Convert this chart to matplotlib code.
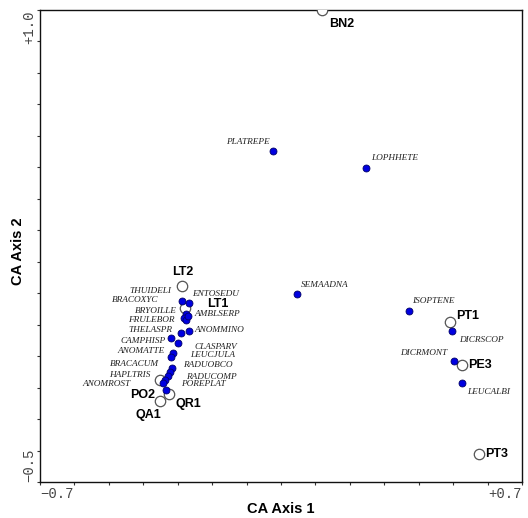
import matplotlib
matplotlib.use("Agg")
import matplotlib.pyplot as plt
from matplotlib.patches import Rectangle

# Species scores (CA axis 1, CA axis 2)
species = ["PLATREPE", "LOPHHETE", "SEMAADNA", "ISOPTENE", "DICRSCOP", "DICRMONT",
           "LEUCALBI", "THUIDELI", "ENTOSEDU", "BRACOXYC", "BRYOILLE", "FRULEBOR",
           "AMBLSERP", "THELASPR", "ANOMMINO", "CAMPHISP", "CLASPARV", "ANOMATTE",
           "LEUCJULA", "BRACACUM", "RADUOBCO", "RADUCOMP", "HAPLTRIS", "POREPLAT",
           "ANOMROST"]
species_x = [-0.023, 0.247, 0.047, 0.372, 0.497, 0.502,
             0.525, -0.288, -0.267, -0.276, -0.282, -0.276,
             -0.270, -0.290, -0.267, -0.320, -0.299, -0.314,
             -0.320, -0.317, -0.322, -0.328, -0.337, -0.334,
             -0.343]
species_y = [0.552, 0.499, 0.099, 0.044, -0.020, -0.114,
             -0.184, 0.075, 0.069, 0.034, 0.021, 0.015,
             0.028, -0.026, -0.020, -0.042, -0.058, -0.090,
             -0.103, -0.138, -0.150, -0.163, -0.176, -0.208,
             -0.185]

# Site scores
sites = ["BN2", "LT2", "LT1", "PO2", "QR1", "QA1", "PT1", "PE3", "PT3"]
sites_x = [0.119, -0.288, -0.279, -0.352, -0.325, -0.352, 0.491, 0.526, 0.575]
sites_y = [1.000, 0.123, 0.053, -0.176, -0.220, -0.242, 0.009, -0.128, -0.411]

# Label placement (pixel offsets from the marker, horizontal alignment)
species_offsets = [(-3, 9, "right"), (5, 10, "left"), (4, 9, "left"), (3, 10, "left"),
                   (7, -9, "left"), (-7, 8, "right"), (5, -9, "left"), (-10, 10, "right"),
                   (3, 9, "left"), (-28, 14, "right"), (-7, 7, "right"), (-11, 0, "right"),
                   (6, 2, "left"), (-9, 3, "right"), (5, 1, "left"), (-5, -3, "right"),
                   (16, -4, "left"), (-8, 2, "right"), (19, 2, "left"), (-13, 4, "right"),
                   (13, 7, "left"), (18, -1, "left"), (-15, 5, "right"), (15, 6, "left"),
                   (-32, -1, "right")]
site_offsets = [(7, -14, "left"), (1, 14, "center"), (22, 4, "left"), (-5, -15, "right"),
                (6, -10, "left"), (1, -14, "right"), (6, 6, "left"), (6, 0, "left"),
                (6, 0, "left")]

xmin, xmax = -0.7, 0.7
ymin, ymax = -0.5, 1.0

W, H = 528, 518
fig = plt.figure(figsize=(W / 100, H / 100), dpi=100)
ax = fig.add_axes([40 / W, (H - 482) / H, (522 - 40) / W, (482 - 10) / H])
ax.set_xlim(xmin, xmax)
ax.set_ylim(ymin, ymax)

for s in ax.spines.values():
    s.set_linewidth(1.0)
    s.set_color("#111111")

ticks_x = [round(xmin + 0.1 * i, 1) for i in range(15)]
ticks_y = [round(ymin + 0.1 * i, 1) for i in range(16)]
ax.set_xticks(ticks_x)
ax.set_yticks(ticks_y)
ax.set_xticklabels([])
ax.set_yticklabels([])
ax.tick_params(direction="out", length=2.5, width=0.8, color="#333333")

mono = dict(family="Liberation Mono", fontsize=10, color="#444444")
ax.text(0.0, -0.01, "\u22120.7", transform=ax.transAxes, ha="left", va="top", **mono)
ax.text(1.0, -0.01, "+0.7", transform=ax.transAxes, ha="right", va="top", **mono)
ax.text(-0.008, 1.0, "+1.0", transform=ax.transAxes, ha="right", va="top",
        rotation=90, **mono)
ax.text(-0.008, 0.0, "\u22120.5", transform=ax.transAxes, ha="right", va="bottom",
        rotation=90, **mono)

ax.text(0.5, -0.042, "CA Axis 1", transform=ax.transAxes, ha="center", va="top",
        family="Liberation Sans", fontweight="bold", fontsize=10.5)
ax.text(-0.046, 0.49, "CA Axis 2", transform=ax.transAxes, ha="center", va="center",
        rotation=90, family="Liberation Sans", fontweight="bold", fontsize=10.5)

# Sites: open circles
ax.plot(sites_x, sites_y, linestyle="none", marker="o", markersize=7.5,
        markerfacecolor="white", markeredgecolor="#555555", markeredgewidth=0.9,
        zorder=3)

# Species: filled blue dots
ax.plot(species_x, species_y, linestyle="none", marker="o", markersize=5,
        markerfacecolor="#0000e0", markeredgecolor="#000066", markeredgewidth=0.6,
        zorder=4)

for name, x, y, (dx, dy, ha) in zip(species, species_x, species_y, species_offsets):
    ax.annotate(name, (x, y), xytext=(dx, dy), textcoords="offset pixels",
                ha=ha, va="center", family="Liberation Serif", style="italic",
                fontsize=6.7, color="#222222", zorder=5)

for name, x, y, (dx, dy, ha) in zip(sites, sites_x, sites_y, site_offsets):
    ax.annotate(name, (x, y), xytext=(dx, dy), textcoords="offset pixels",
                ha=ha, va="center", family="Liberation Sans", fontweight="bold",
                fontsize=9, color="black", zorder=5, annotation_clip=False)

# Blank strip above the frame so markers sitting on the top edge show only below it
fig.add_artist(Rectangle((40 / W, (H - 9.4) / H), (522 - 40) / W, 9.4 / H,
                         transform=fig.transFigure, facecolor="white",
                         edgecolor="none", zorder=10))

fig.savefig("out.png", dpi=100, facecolor="white")
